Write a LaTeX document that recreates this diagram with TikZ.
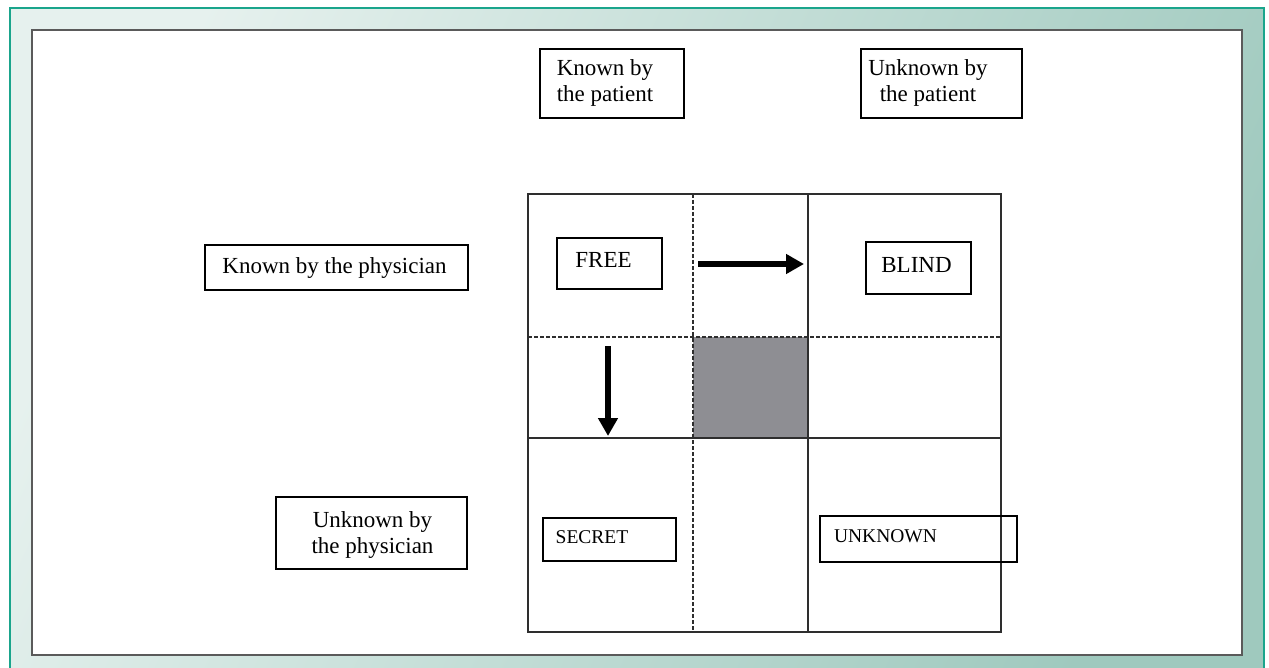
\documentclass[tikz,border=0pt]{standalone}
\usepackage{fontspec}
\setmainfont{Liberation Serif}
\usetikzlibrary{arrows.meta}
\definecolor{frameline}{HTML}{1AA58C}
\definecolor{bgA}{HTML}{E6F1EE}
\definecolor{bgB}{HTML}{9FC9BE}
\definecolor{gridline}{HTML}{2E2E2E}
\definecolor{shadecell}{HTML}{8E8E93}
\definecolor{innerframe}{HTML}{5A5A5A}
\begin{document}
\begin{tikzpicture}[x=1pt,y=-1pt,
  box/.style={draw=black, line width=1.8pt, inner sep=0pt},
  lbl/.style={font=\fontsize{23}{26}\selectfont, align=center, inner sep=0pt},
  smalllbl/.style={font=\fontsize{19.5}{23}\selectfont, inner sep=0pt},
  gridsolid/.style={draw=gridline, line width=2pt},
  griddash/.style={draw=gridline, line width=2.4pt, dash pattern=on 4pt off 2pt},
  bigarrow/.style={line width=5.5pt, -{Triangle[length=18pt,width=19pt]}}]
\useasboundingbox (0,0) rectangle (1269,668);
\clip (0,0) rectangle (1269,668);
% background frame
\shade[top color=bgA, bottom color=bgB, shading angle=65] (10,8) rectangle (1264,680);
\draw[frameline, line width=1.5pt] (10,8) rectangle (1264,680);
\draw[fill=white, draw=innerframe, line width=1.5pt] (32,30) rectangle (1242,655);
% grid
\fill[shadecell] (693,337) rectangle (808,438);
\draw[griddash] (528,337) -- (1001,337);
\draw[griddash] (693,194) -- (693,632);
\draw[gridsolid] (808,194) -- (808,632);
\draw[gridsolid] (528,438) -- (1001,438);
\draw[gridsolid] (528,194) rectangle (1001,632);
% arrows
\coordinate (ra1) at (698,264);
\coordinate (ra2) at (804,264);
\coordinate (da1) at (608,346);
\coordinate (da2) at (608,436);
\draw[bigarrow] (ra1) -- (ra2);
\draw[bigarrow] (da1) -- (da2);
% header boxes
\node[box, minimum width=144pt, minimum height=69pt] (kp) at (612,83.5) {};
\node[lbl] (kpt) at (605,83) {Known by\\the patient};
\node[box, minimum width=161pt, minimum height=69pt] (up) at (941.5,83.5) {};
\node[lbl] (upt) at (928,83) {Unknown by\\the patient};
\node[box, minimum width=263pt, minimum height=45pt] (kph) at (336.5,267.5) {};
\node[lbl] (kpht) at (334.5,268) {Known by the physician};
\node[box, minimum width=191pt, minimum height=72pt] (uph) at (371.5,533) {};
\node[lbl] (upht) at (372.5,535) {Unknown by\\the physician};
% quadrant boxes
\node[box, minimum width=105pt, minimum height=51pt] (free) at (609.5,263.5) {};
\node[lbl] (freet) at (603.5,260) {FREE};
\node[box, minimum width=105pt, minimum height=52pt] (blind) at (918.5,268) {};
\node[lbl] (blindt) at (916.5,265) {BLIND};
\node[box, minimum width=133pt, minimum height=43pt] (secret) at (609.5,539.5) {};
\node[smalllbl] (secrett) at (592,537) {SECRET};
\node[box, minimum width=197pt, minimum height=46pt] (unknown) at (918.5,539) {};
\node[smalllbl] (unknownt) at (885.5,536) {UNKNOWN};
\end{tikzpicture}
\end{document}
